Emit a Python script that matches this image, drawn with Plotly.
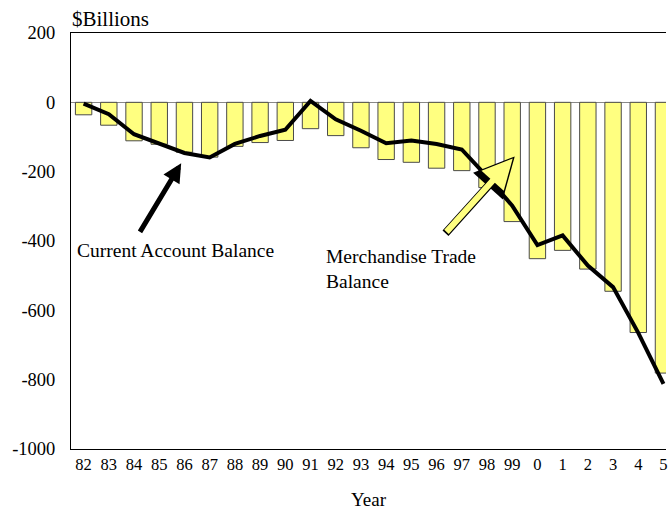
import plotly.graph_objects as go

years = ["82", "83", "84", "85", "86", "87", "88", "89", "90", "91", "92", "93",
         "94", "95", "96", "97", "98", "99", "0", "1", "2", "3", "4", "5"]

merchandise_trade = [-36, -66, -111, -121, -144, -158, -127, -116, -110, -76, -96, -131,
                     -165, -173, -190, -197, -246, -344, -451, -427, -481, -545, -664, -781]

current_account = [-4, -34, -92, -119, -146, -159, -120, -97, -79, 4, -49, -82,
                   -118, -110, -120, -136, -214, -298, -412, -384, -471, -533, -665, -812]

y_ticks = [200, 0, -200, -400, -600, -800, -1000]
y_tick_labels = ["200", "0", "-200", "-400", "-600", "-800", "-1000"]

x_idx = list(range(len(years)))

fig = go.Figure()

fig.add_trace(
    go.Bar(
        x=x_idx,
        y=merchandise_trade,
        width=0.65,
        marker=dict(color="#FFFF80", line=dict(color="#4a4a4a", width=1)),
        name="Merchandise Trade Balance"
    )
)

fig.add_trace(
    go.Scatter(
        x=x_idx,
        y=current_account,
        mode="lines",
        line=dict(color="black", width=4),
        name="Current Account Balance"
    )
)

serif = "Liberation Serif"

# black arrow pointing at the current account line
fig.add_annotation(
    x=3.87, y=-176, ax=2.2, ay=-378, xref="x", yref="y", axref="x", ayref="y",
    text="", showarrow=True, arrowhead=2, arrowsize=0.75, arrowwidth=5, arrowcolor="black"
)

# yellow block arrow (outline + fill)
fig.add_annotation(
    x=17.1, y=-156, ax=14.3, ay=-382, xref="x", yref="y", axref="x", ayref="y",
    text="", showarrow=True, arrowhead=2, arrowsize=1.0, arrowwidth=8, arrowcolor="black"
)
fig.add_annotation(
    x=17.02, y=-162, ax=14.34, ay=-378, xref="x", yref="y", axref="x", ayref="y",
    text="", showarrow=True, arrowhead=2, arrowsize=1.0, arrowwidth=6, arrowcolor="#FFFF80"
)

fig.add_annotation(
    x=-0.36, y=-427, xref="x", yref="y", text="Current Account Balance",
    showarrow=False, xanchor="left", yanchor="middle",
    font=dict(family=serif, size=19.5, color="black")
)
fig.add_annotation(
    x=9.52, y=-481, xref="x", yref="y", text="Merchandise Trade<br>Balance",
    showarrow=False, xanchor="left", yanchor="middle", align="left",
    font=dict(family=serif, size=19.5, color="black")
)
fig.add_annotation(
    x=0, y=1.0, xref="paper", yref="paper", text="$Billions",
    showarrow=False, xanchor="left", yanchor="bottom", yshift=0, xshift=-1,
    font=dict(family=serif, size=21, color="black")
)

fig.update_layout(
    width=668,
    height=510,
    margin=dict(l=71, r=0, t=33, b=61),
    paper_bgcolor="white",
    plot_bgcolor="white",
    showlegend=False,
    bargap=0.35,
    font=dict(family=serif, size=16, color="black"),
    xaxis=dict(
        range=[-0.5, 23.1],
        tickmode="array",
        tickvals=x_idx,
        ticktext=years,
        tickfont=dict(family=serif, size=16.5),
        ticklabeloverflow="allow",
        showgrid=False,
        zeroline=False,
        showline=True,
        linecolor="black",
        linewidth=1,
        mirror=True,
        ticks="",
        title=dict(text="Year", font=dict(family=serif, size=19), standoff=20),
    ),
    yaxis=dict(
        range=[-1000, 200],
        tickmode="array",
        tickvals=y_ticks,
        ticktext=y_tick_labels,
        tickfont=dict(family=serif, size=18.5),
        showgrid=False,
        zeroline=True,
        zerolinecolor="#888888",
        zerolinewidth=1,
        showline=True,
        linecolor="black",
        linewidth=1,
        ticks="",
        ticklabelstandoff=11,
    ),
)

fig.write_html(
    "out.html",
    config={"displayModeBar": False},
    post_script="document.body.style.margin='0';document.body.style.overflow='hidden';"
)
